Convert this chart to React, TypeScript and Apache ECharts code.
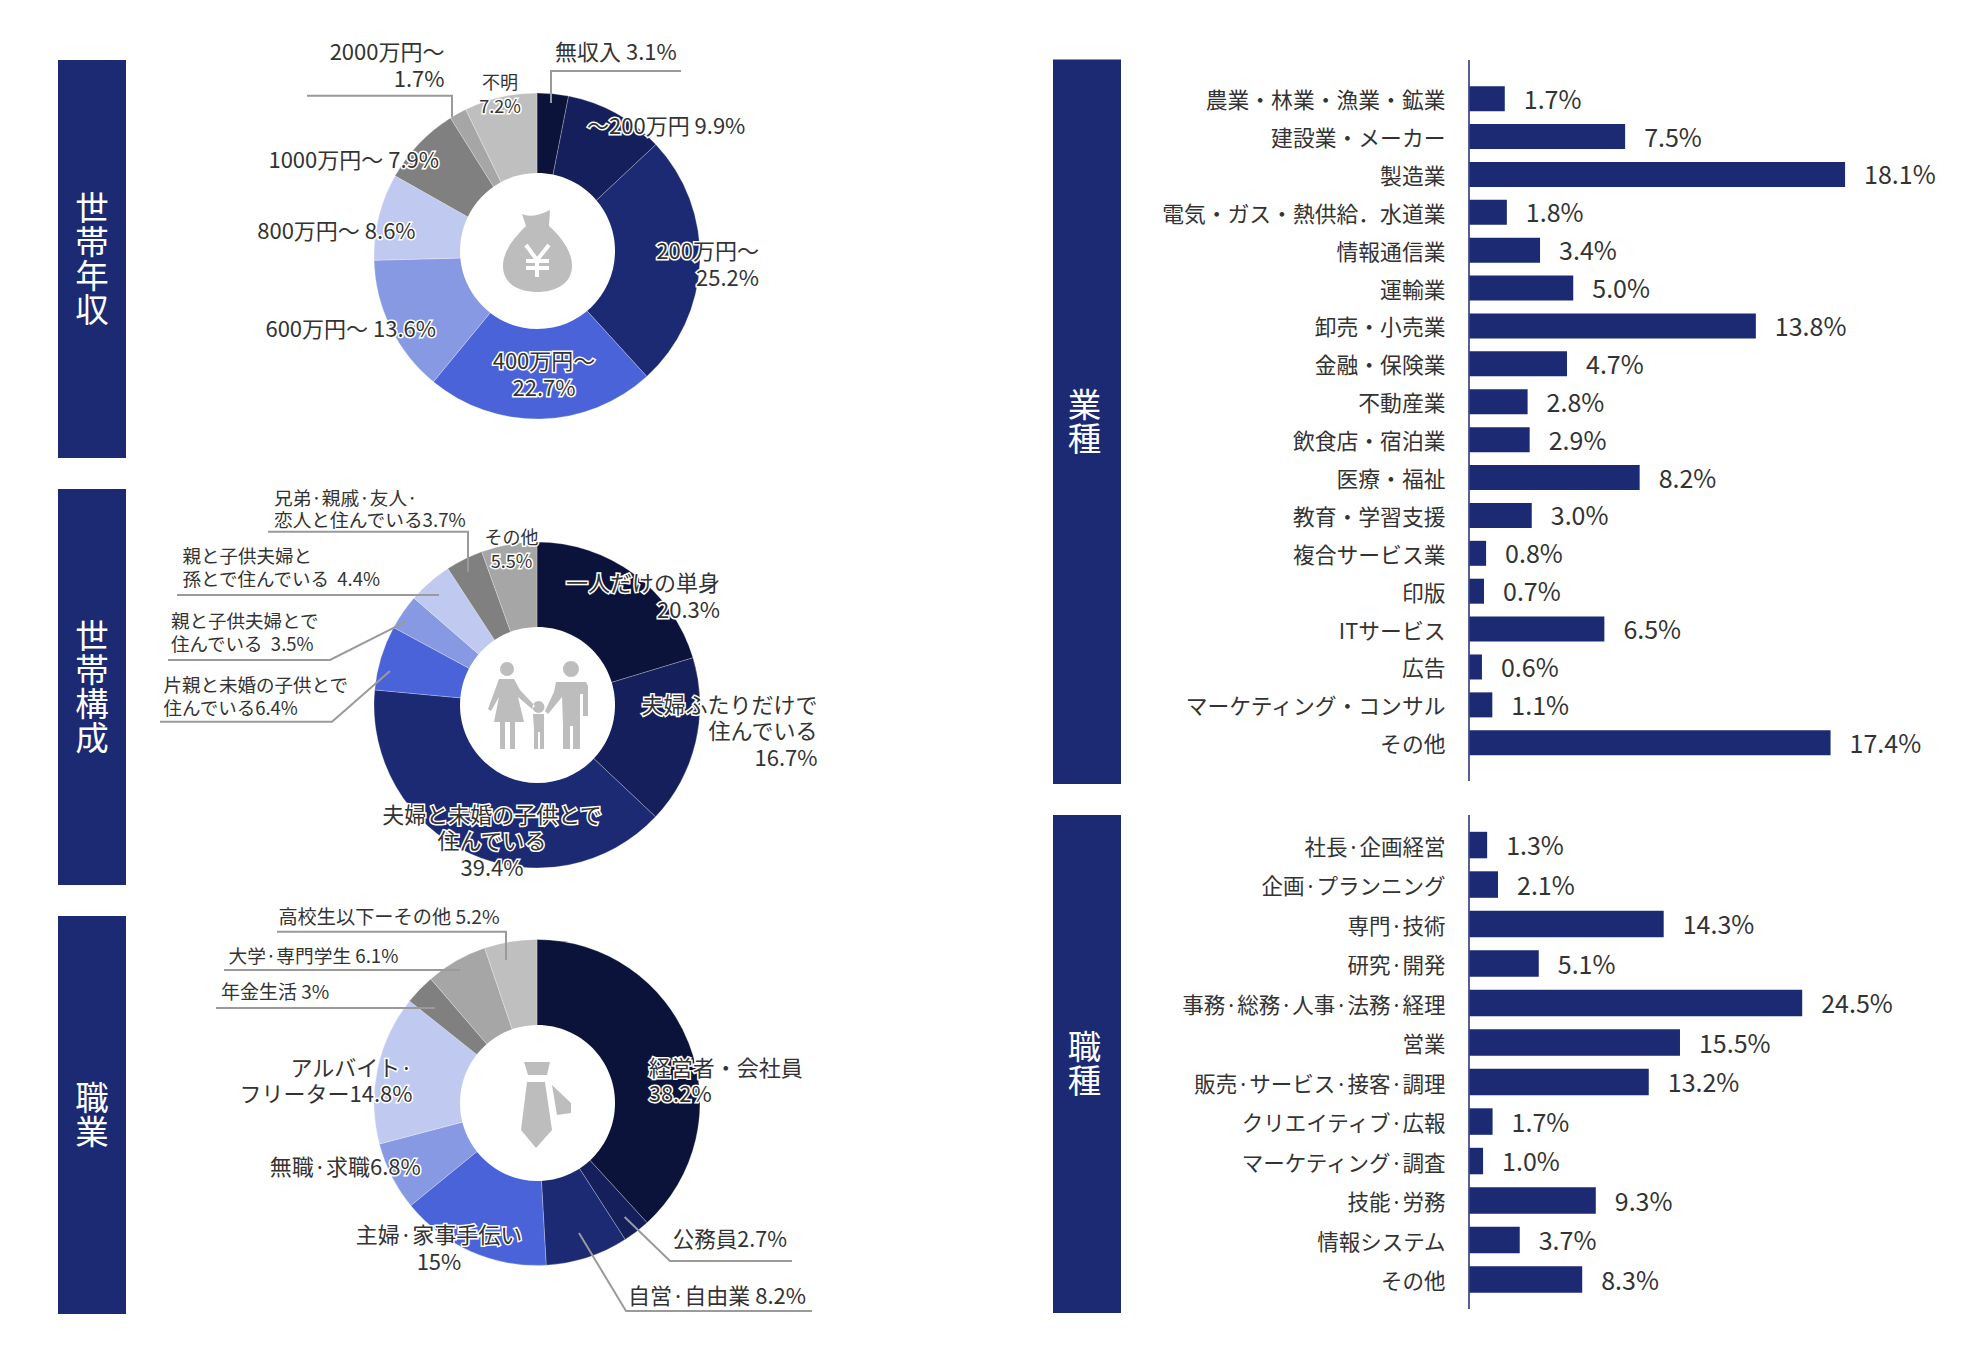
import React, { useEffect, useRef } from "react";
import * as echarts from "echarts";

// ---------- data ----------
const incomeValues = [3.1, 9.9, 25.2, 22.7, 13.6, 8.6, 7.9, 1.7, 7.2];
const incomeLabels = ["無収入 3.1%", "〜200万円 9.9%", "200万円〜\n25.2%", "400万円〜\n22.7%", "600万円〜 13.6%", "800万円〜 8.6%", "1000万円〜 7.9%", "2000万円〜\n1.7%", "不明\n7.2%"];

const householdValues = [20.3, 16.7, 39.4, 6.4, 3.5, 4.4, 3.7, 5.5];
const householdLabels = ["一人だけの単身\n20.3%", "夫婦ふたりだけで\n住んでいる\n16.7%", "夫婦と未婚の子供とで\n住んでいる\n39.4%", "片親と未婚の子供とで\n住んでいる6.4%", "親と子供夫婦とで\n住んでいる  3.5%", "親と子供夫婦と\n孫とで住んでいる  4.4%", "兄弟·親戚·友人·\n恋人と住んでいる3.7%", "その他\n5.5%"];

const occupationValues = [38.2, 2.7, 8.2, 15, 6.8, 14.8, 3, 6.1, 5.2];
const occupationLabels = ["経営者・会社員\n38.2%", "公務員2.7%", "自営·自由業 8.2%", "主婦·家事手伝い\n15%", "無職·求職6.8%", "アルバイト·\nフリーター14.8%", "年金生活 3%", "大学·専門学生 6.1%", "高校生以下ーその他 5.2%"];

const industryCategories = ["農業・林業・漁業・鉱業", "建設業・メーカー", "製造業", "電気・ガス・熱供給．水道業", "情報通信業", "運輸業", "卸売・小売業", "金融・保険業", "不動産業", "飲食店・宿泊業", "医療・福祉", "教育・学習支援", "複合サービス業", "印版", "ITサービス", "広告", "マーケティング・コンサル", "その他"];
const industryValues = [1.7, 7.5, 18.1, 1.8, 3.4, 5.0, 13.8, 4.7, 2.8, 2.9, 8.2, 3.0, 0.8, 0.7, 6.5, 0.6, 1.1, 17.4];

const jobCategories = ["社長·企画経営", "企画·プランニング", "専門·技術", "研究·開発", "事務·総務·人事·法務·経理", "営業", "販売·サービス·接客·調理", "クリエイティブ·広報", "マーケティング·調査", "技能·労務", "情報システム", "その他"];
const jobValues = [1.3, 2.1, 14.3, 5.1, 24.5, 15.5, 13.2, 1.7, 1.0, 9.3, 3.7, 8.3];

const panelTitles = ["世\n帯\n年\n収", "世\n帯\n構\n成", "職\n業", "業\n種", "職\n種"];

// ---------- layout & style ----------
const NAVY = "#1b2a73";
const TEXT = "#333333";
const GREY = "#bdbdbd";
const LINE = "#9a9a9a";
const FONT = '"Noto Sans CJK JP", "Noto Sans", sans-serif';
const sliceColors = ["#0b133a", "#141f5c", "#1b2a73", "#4a63d9", "#8699e2", "#c0caf0", "#808080", "#a6a6a6", "#bfbfbf"];

type Place = [number, number, "left" | "right" | "center", number, number];
const incomePlaces: Place[] = [
  [555, 52.7, "left", 22, 27],
  [587, 126.7, "left", 22, 27],
  [759, 265, "right", 22, 27],
  [544, 375, "center", 22, 27],
  [436, 329, "right", 22, 27],
  [415.6, 231, "right", 22, 27],
  [439, 160, "right", 22, 27],
  [444.5, 66, "right", 22, 27],
  [500, 95, "center", 18, 24],
];
const householdPlaces: Place[] = [
  [720, 596.7, "right", 22, 27],
  [817.5, 731.7, "right", 22, 26.5],
  [492, 841.7, "center", 22, 26.5],
  [163.6, 698, "left", 18.5, 22.5],
  [171, 634, "left", 18.5, 22.5],
  [182.5, 569, "left", 18.5, 22.5],
  [274, 510, "left", 18.7, 21.5],
  [511.5, 550, "center", 18, 24],
];
const occupationPlaces: Place[] = [
  [648.7, 1081, "left", 22, 26],
  [672.8, 1240, "left", 21.5, 26],
  [628, 1296, "left", 22, 26],
  [439, 1249, "center", 22, 26.5],
  [420.8, 1167.7, "right", 22, 26],
  [412.6, 1081, "right", 22, 26],
  [221, 992.7, "left", 19, 22],
  [228.5, 957.3, "left", 18.7, 22],
  [278.4, 918, "left", 19.2, 22],
];

const leaders: number[][][] = [
  [[551, 103], [551, 71], [681, 71]],
  [[307, 95.7], [452, 95.7], [452, 117]],
  [[268, 531.7], [468, 531.7], [468, 571.7]],
  [[177, 595], [439, 595]],
  [[168, 660], [330, 660], [406, 621.7]],
  [[160, 721.7], [332, 721.7], [390, 671]],
  [[277, 931.7], [506, 931.7], [506, 960]],
  [[224, 970], [460, 970]],
  [[216, 1008], [435, 1008]],
  [[792, 1261], [670, 1261], [624.6, 1217]],
  [[812, 1311], [626, 1311], [579, 1233]],
];

const panels = [
  [58, 60, 68, 398],
  [58, 489, 68, 396],
  [58, 916, 68, 398],
  [1053, 59.5, 68, 724.5],
  [1053, 815, 68, 498],
];
const panelTitleShift = [0, 0, 0, -2.5, -2.5];

const circlePath = (cx: number, cy: number, r: number) =>
  `M${cx - r} ${cy} a${r} ${r} 0 1 0 ${2 * r} 0 a${r} ${r} 0 1 0 ${-2 * r} 0 Z`;

const bagPath = "M522 214 Q532 219 550 210 L549 226 C560 236 572 250 572 266 C572 284 555 292 537 292 C519 292 503 284 503 266 C503 250 516 236 526 226 Z";
const yenPath = "M526 245 L537 260 L549 245 M537 260 L537 277 M526 261 L549 261 M526 268 L549 268";
const familyPath = [
  circlePath(507, 669, 7),
  "M499 679 L514 679 L520 690 L535 706 L532 709 L518 697 L524 722 L515 722 L515 749 L510 749 L510 722 L505 722 L505 749 L500 749 L500 722 L494 722 L499 697 L491 711 L488 709 Z",
  circlePath(538.5, 707, 6),
  "M533 714 L544 714 L544 749 L540 749 L540 732 L538 732 L538 749 L534 749 L534 730 Z",
  circlePath(571, 669, 8),
  "M556 682 L586 682 L588 686 L588 716 L583 716 L583 694 L580 694 L580 749 L573 749 L573 726 L570 726 L570 749 L563 749 L563 725 L562 697 L548 714 L545 711 L554 692 Z",
].join(" ");
const tiePath = "M524 1062 L550 1062 L547 1075 L528 1075 Z M527 1082 L545 1082 L552 1130 L536 1148 L521 1130 Z M552 1085 L571 1103 L571 1113 L557 1115 Z";

echarts.graphic.registerShape("bagIcon", echarts.graphic.extendPath(bagPath, {}));
echarts.graphic.registerShape("yenIcon", echarts.graphic.extendPath(yenPath, {}));
echarts.graphic.registerShape("familyIcon", echarts.graphic.extendPath(familyPath, {}));
echarts.graphic.registerShape("tieIcon", echarts.graphic.extendPath(tiePath, {}));

function pieSeries(values: number[], labels: string[], places: Place[], cy: number) {
  return {
    type: "pie",
    center: [537, cy],
    radius: [0, 163],
    startAngle: 90,
    clockwise: true,
    avoidLabelOverlap: false,
    silent: true,
    minShowLabelAngle: 0,
    labelLine: { show: false },
    label: { show: true, position: "inside", color: TEXT, fontFamily: FONT, textBorderColor: "#ffffff", textBorderWidth: 3 },
    labelLayout: (p: any) => {
      const pl = places[p.dataIndex];
      return { x: pl[0], y: pl[1] - 2.5, align: pl[2], verticalAlign: "middle", hideOverlap: false };
    },
    data: values.map((value, i) => ({
      value,
      name: labels[i],
      itemStyle: { color: sliceColors[i], borderColor: "rgba(255,255,255,0.25)", borderWidth: 1 },
      label: { formatter: labels[i], fontSize: places[i][3], lineHeight: places[i][4] },
    })),
  };
}

function barSeries(values: number[], gridIndex: number, barWidth: number) {
  return {
    type: "bar",
    xAxisIndex: gridIndex,
    yAxisIndex: gridIndex,
    barWidth,
    silent: true,
    itemStyle: { color: NAVY },
    label: {
      show: true,
      position: "right",
      distance: 19,
      offset: [0, -1],
      color: TEXT,
      fontFamily: FONT,
      fontSize: 25,
      formatter: (p: any) => `${Number(p.value).toFixed(1)}%`,
    },
    data: values,
  };
}

function categoryAxis(categories: string[], gridIndex: number, fontSize: number) {
  return {
    type: "category",
    gridIndex,
    inverse: true,
    data: categories,
    axisLine: { show: false },
    axisTick: { show: false },
    splitLine: { show: false },
    axisLabel: { color: TEXT, fontFamily: FONT, fontSize, margin: 24, interval: 0, padding: [0, 0, 5, 0] },
  };
}

function buildGraphic() {
  const els: any[] = [];
  panels.forEach(([x, y, w, h], i) => {
    els.push({ type: "rect", z: 50, shape: { x, y, width: w, height: h }, style: { fill: NAVY } });
    els.push({
      type: "text",
      z: 51,
      x: x + w / 2 + panelTitleShift[i],
      y: y + h / 2 - 2.5,
      style: { text: panelTitles[i], fill: "#ffffff", fontFamily: FONT, fontSize: 33.5, lineHeight: 34, align: "center", verticalAlign: "middle" },
    });
  });
  // white centres of the three doughnuts
  [[537.5, 251], [537.5, 705], [537.5, 1103]].forEach(([cx, cy]) => {
    els.push({ type: "ellipse", z: 40, shape: { cx, cy, rx: 77.5, ry: 78 }, style: { fill: "#ffffff" } });
  });
  els.push({ type: "bagIcon", z: 41, x: 0, y: 0, style: { fill: GREY } });
  els.push({ type: "yenIcon", z: 42, x: 0, y: 0, style: { fill: "none", stroke: "#ffffff", lineWidth: 4 } });
  els.push({ type: "familyIcon", z: 41, x: 0, y: 0, style: { fill: GREY } });
  els.push({ type: "tieIcon", z: 41, x: 0, y: 0, style: { fill: GREY } });
  leaders.forEach((points) => {
    els.push({ type: "polyline", z: 45, shape: { points }, style: { fill: "none", stroke: LINE, lineWidth: 2 } });
  });
  // axis spines
  els.push({ type: "line", z: 45, shape: { x1: 1469, y1: 60, x2: 1469, y2: 781 }, style: { stroke: NAVY, lineWidth: 1.5 } });
  els.push({ type: "line", z: 45, shape: { x1: 1469, y1: 815, x2: 1469, y2: 1309 }, style: { stroke: NAVY, lineWidth: 1.5 } });
  return els;
}

export default function App() {
  const ref = useRef<HTMLDivElement>(null);
  useEffect(() => {
    document.body.style.margin = "0";
    const chart = echarts.init(ref.current!, undefined, { renderer: "svg" });
    chart.setOption({
      animation: false,
      backgroundColor: "#ffffff",
      textStyle: { fontFamily: FONT },
      grid: [
        { left: 1469.5, top: 79.7, width: 498, height: 682, containLabel: false },
        { left: 1469.5, top: 825.3, width: 407.4, height: 474, containLabel: false },
      ],
      xAxis: [
        { type: "value", gridIndex: 0, min: 0, max: 24, show: false },
        { type: "value", gridIndex: 1, min: 0, max: 30, show: false },
      ],
      yAxis: [categoryAxis(industryCategories, 0, 21.8), categoryAxis(jobCategories, 1, 21.5)],
      series: [
        pieSeries(incomeValues, incomeLabels, incomePlaces, 256),
        pieSeries(householdValues, householdLabels, householdPlaces, 705),
        pieSeries(occupationValues, occupationLabels, occupationPlaces, 1102.5),
        barSeries(industryValues, 0, 25),
        barSeries(jobValues, 1, 26.5),
      ],
      graphic: { elements: buildGraphic() },
    });
    return () => chart.dispose();
  }, []);
  return <div ref={ref} style={{ position: "absolute", left: 0, top: 0, width: 1984, height: 1358 }} />;
}
